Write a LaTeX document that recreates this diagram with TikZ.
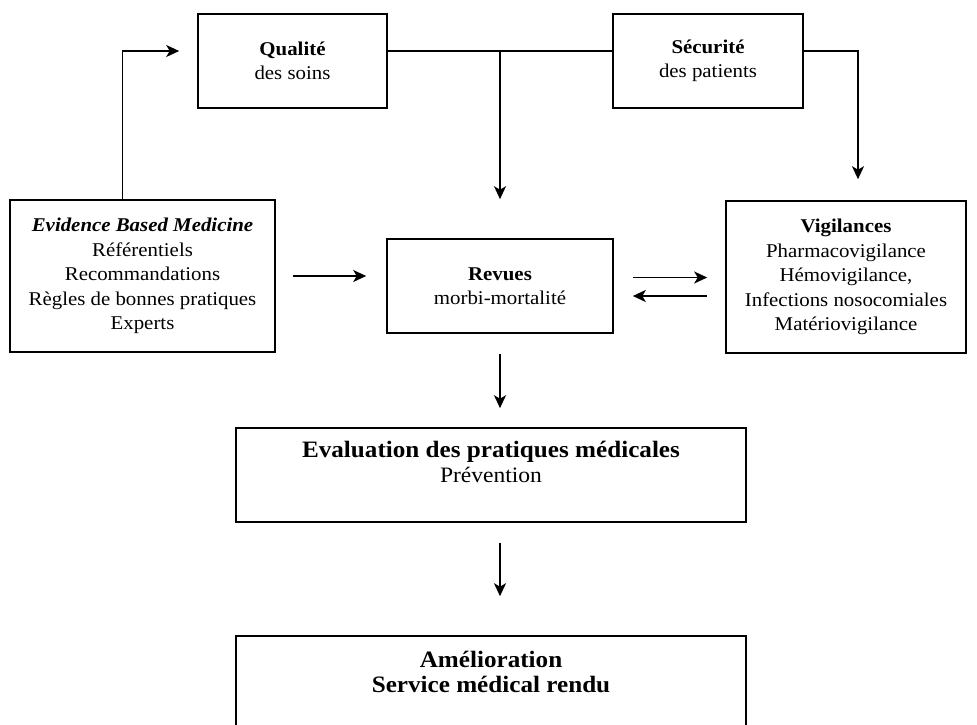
\documentclass[tikz,border=0pt]{standalone}
\usepackage{fontspec}
\setmainfont{Liberation Serif}[FakeStretch=1.07]
\usetikzlibrary{arrows.meta,calc,positioning}

\begin{document}
\begin{tikzpicture}[
  x=1pt, y=-1pt,
  line width=1.8pt,
  >={Stealth[length=13pt,width=12pt,inset=3.5pt]},
  mybox/.style={
    draw,
    line width=1.6pt,
    align=center,
    inner sep=0pt,
    font=\fontsize{19.5}{24.5}\selectfont
    },
  mybigbox/.style={
    draw,
    line width=1.6pt,
    minimum width=510pt,
    minimum height=94pt,
    inner sep=0pt
    },
  mybigtext/.style={
    align=center,
    inner sep=0pt,
    font=\fontsize{23.5}{24.5}\selectfont
    }
]
\useasboundingbox (0,0) rectangle (977,724);

% top row
\node [mybox, minimum width=189pt, minimum height=94pt] (qual) at (292.5,61)
  {\textbf{Qualité}\\des soins};
\node [mybox, minimum width=190pt, minimum height=94pt] (secu) at (708,61)
  {\textbf{Sécurité}\\des patients};

% middle row
\node [mybox, minimum width=265pt, minimum height=152pt] (ebm) at (142.5,276)
  {\textbf{\textit{Evidence Based Medicine}}\\Référentiels\\Recommandations\\Règles de bonnes pratiques\\Experts};
\node [mybox, minimum width=226pt, minimum height=94pt] (revues) at (500,286)
  {\textbf{Revues}\\morbi-mortalité};
\node [mybox, minimum width=240pt, minimum height=152pt] (vigil) at (846,277)
  {\textbf{Vigilances}\\Pharmacovigilance\\Hémovigilance,\\Infections nosocomiales\\Matériovigilance};

% bottom boxes
\node [mybigbox] (evalu) at (491,475) {};
\node [mybigtext] (evalutxt) at ([yshift=13pt]evalu.center)
  {\textbf{Evaluation des pratiques médicales}\\{\fontsize{22}{24.5}\selectfont Prévention}};
\node [mybigbox] (amel) at (491,683) {};
\node [mybigtext] (ameltxt) at ([yshift=11pt]amel.center)
  {\textbf{Amélioration}\\\textbf{Service médical rendu}};

% connectors
\draw [->, shorten >=18pt] ([xshift=-20pt]ebm.north) |- ([yshift=10pt]qual.west);
\draw ([yshift=10pt]qual.east) -- coordinate[midway] (mid) ([yshift=10pt]secu.west);
\draw [->, shorten >=39pt] (mid) -- (mid |- revues.north);
\draw [->, shorten >=21pt] ([yshift=10pt]secu.east) -| ([xshift=12pt]vigil.north);
\draw [->, shorten <=17pt, shorten >=20pt] (ebm.east) -- (ebm.east -| revues.west);
\draw [->, shorten <=19pt, shorten >=18pt] ([yshift=8.5pt]revues.east) -- ([yshift=8.5pt]revues.east -| vigil.west);
\draw [<-, shorten <=19pt, shorten >=18pt] ([yshift=-10pt]revues.east) -- ([yshift=-10pt]revues.east -| vigil.west);
\draw [->, shorten <=20pt, shorten >=19pt] (revues.south) -- (revues.south |- evalu.north);
\draw [->, shorten <=20pt, shorten >=39pt] (revues.south |- evalu.south) -- (revues.south |- amel.north);

\end{tikzpicture}
\end{document}
